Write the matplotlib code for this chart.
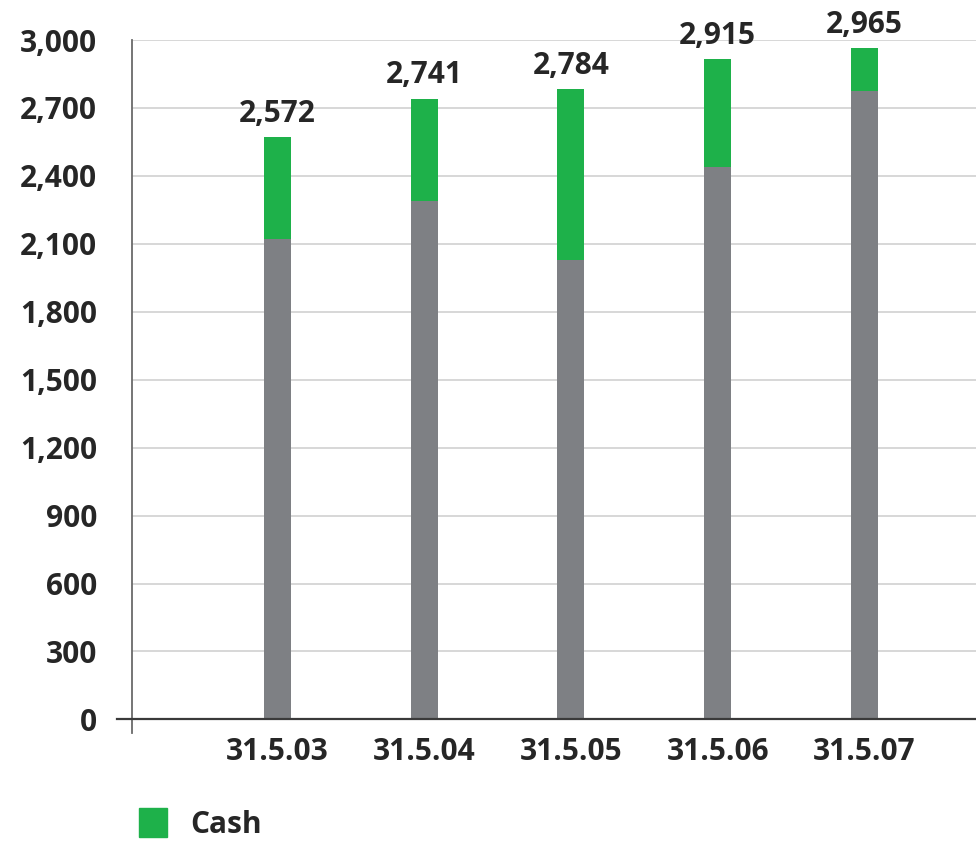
import matplotlib
matplotlib.use("Agg")
import matplotlib.pyplot as plt
import matplotlib.transforms as mtransforms
from matplotlib.patches import Rectangle

categories = ["31.5.03", "31.5.04", "31.5.05", "31.5.06", "31.5.07"]
other = [2120, 2290, 2030, 2440, 2775]
cash = [452, 451, 754, 475, 190]
totals = [2572, 2741, 2784, 2915, 2965]
total_labels = ["2,572", "2,741", "2,784", "2,915", "2,965"]
yticks = [0, 300, 600, 900, 1200, 1500, 1800, 2100, 2400, 2700, 3000]
ytick_labels = ["0", "300", "600", "900", "1,200", "1,500", "1,800", "2,100", "2,400", "2,700", "3,000"]

GREEN = "#1eb14a"
GRAY = "#7e8084"
TEXT = "#262626"
FONT = ["Open Sans", "DejaVu Sans"]
plt.rcParams["font.family"] = FONT
FS = 21.5
FW = "bold"

fig = plt.figure(figsize=(9.76, 8.41), dpi=100)
ax = fig.add_axes([0.1352, 0.1284, 0.8648, 0.824])

x = list(range(len(categories)))
w = 0.184
ax.bar(x, other, width=w, color=GRAY, zorder=3)
ax.bar(x, cash, width=w, bottom=other, color=GREEN, zorder=3, label="Cash")

for xi, t, lab in zip(x, totals, total_labels):
    ax.annotate(lab, (xi, t), xytext=(0, 6), textcoords="offset points",
                ha="center", va="bottom", fontsize=FS, fontweight=FW,
                color=TEXT, clip_on=False, annotation_clip=False)

ax.set_xlim(-0.99, 4.76)
ax.set_ylim(-60, 3000)
ax.set_yticks(yticks)
ax.set_yticklabels(ytick_labels)
ax.set_xticks(x)
ax.set_xticklabels(categories)

for lab in ax.get_yticklabels() + ax.get_xticklabels():
    lab.set_fontsize(FS)
    lab.set_fontweight(FW)
    lab.set_color(TEXT)

ax.tick_params(axis="y", length=0, pad=25)
ax.tick_params(axis="x", length=0, pad=3)

ax.grid(axis="y", color="#d4d4d4", linewidth=1.3, zorder=0)
ax.set_axisbelow(True)
for s in ["top", "right", "bottom"]:
    ax.spines[s].set_visible(False)
ax.spines["left"].set_color("#6a6a6a")
ax.spines["left"].set_linewidth(1.3)

# zero baseline extending slightly left of the axis
trans = mtransforms.blended_transform_factory(ax.transAxes, ax.transData)
ax.plot([-0.018, 1.0], [0, 0], transform=trans, color="#3a3a3a", linewidth=1.6,
        clip_on=False, zorder=4)

# legend
fig.patches.append(Rectangle((139 / 976, 1 - 837 / 841), 28 / 976, 29 / 841,
                             transform=fig.transFigure, color=GREEN))
fig.text(190 / 976, 1 - 825 / 841, "Cash", fontsize=FS, fontweight=FW,
         color=TEXT, va="center", ha="left")

fig.savefig("out.png", dpi=100)
